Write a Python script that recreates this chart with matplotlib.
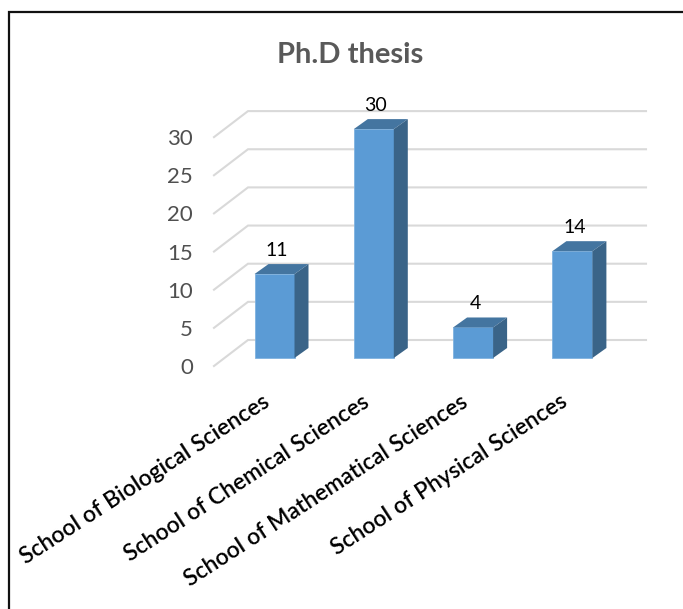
import matplotlib
matplotlib.use('Agg')
import matplotlib.pyplot as plt
from matplotlib.lines import Line2D
from matplotlib.patches import Polygon

schools = ['School of Biological Sciences', 'School of Chemical Sciences',
           'School of Mathematical Sciences', 'School of Physical Sciences']
theses = [11, 30, 4, 14]
y_ticks = [0, 5, 10, 15, 20, 25, 30]

W, H = 683, 609
# pixel positions of the fake 3d plot
X0, X_STEP = 274.5, 99.3
Y0, Y_UNIT = 358, 7.63

plt.rcParams['font.family'] = ['Lato', 'DejaVu Sans']

fig = plt.figure(figsize=(W / 100, H / 100), dpi=100)
ax = fig.add_axes([0, 0, 1, 1])
ax.set_xlim((0 - X0) / X_STEP, (W - X0) / X_STEP)
ax.set_ylim((Y0 - H) / Y_UNIT, Y0 / Y_UNIT)
ax.axis('off')


def cat_x(px):
    return (px - X0) / X_STEP


def val_y(px_offset):
    return px_offset / Y_UNIT


# back wall and side wall gridlines
for v in y_ticks:
    back = v + val_y(18)
    front = v - val_y(8)
    ax.plot([cat_x(214), cat_x(248), cat_x(646)], [front, back, back],
            color='#D9D9D9', lw=1.5, solid_joinstyle='miter', zorder=1)

# bars, top and side faces are offset to look 3d
half = 20 / X_STEP
dx = 14 / X_STEP
dy = val_y(10)
for i, v in enumerate(theses):
    ax.bar(i, v, width=half * 2, color='#5B9BD5', edgecolor='#7FB2E0', lw=0.6, zorder=3)
    ax.add_patch(Polygon([(i - half, v), (i + half, v), (i + half + dx, v + dy), (i - half + dx, v + dy)],
                         closed=True, facecolor='#4475A0', edgecolor='none', zorder=3))
    ax.add_patch(Polygon([(i + half, 0), (i + half + dx, dy), (i + half + dx, v + dy), (i + half, v)],
                         closed=True, facecolor='#3A6488', edgecolor='none', zorder=3))
    ax.annotate(str(v), (i + 0.02, v), xytext=(0, 17), textcoords='offset points',
                ha='center', va='center', fontsize=14, color='black', zorder=4)

for v in y_ticks:
    ax.text(cat_x(193), v - val_y(10), str(v), ha='right', va='center',
            fontsize=16, color='#505050')

for i, name in enumerate(schools):
    ax.text(i - 0.07, val_y(-42), name, rotation=33, rotation_mode='anchor',
            ha='right', va='center', fontsize=16.5, fontweight='semibold', color='black')

ax.text(cat_x(350.5), val_y(Y0 - 55), 'Ph.D thesis', ha='center', va='center',
        fontsize=21, fontweight='bold', color='#595959')

# black frame of the screenshot (only top and left)
frame = Line2D([9 / W, 9 / W, 1], [0, 1 - 12 / H, 1 - 12 / H], transform=ax.transAxes,
               color='#111111', lw=1.6, solid_joinstyle='miter')
ax.add_line(frame)

fig.savefig('out.png', dpi=100)
plt.close(fig)
